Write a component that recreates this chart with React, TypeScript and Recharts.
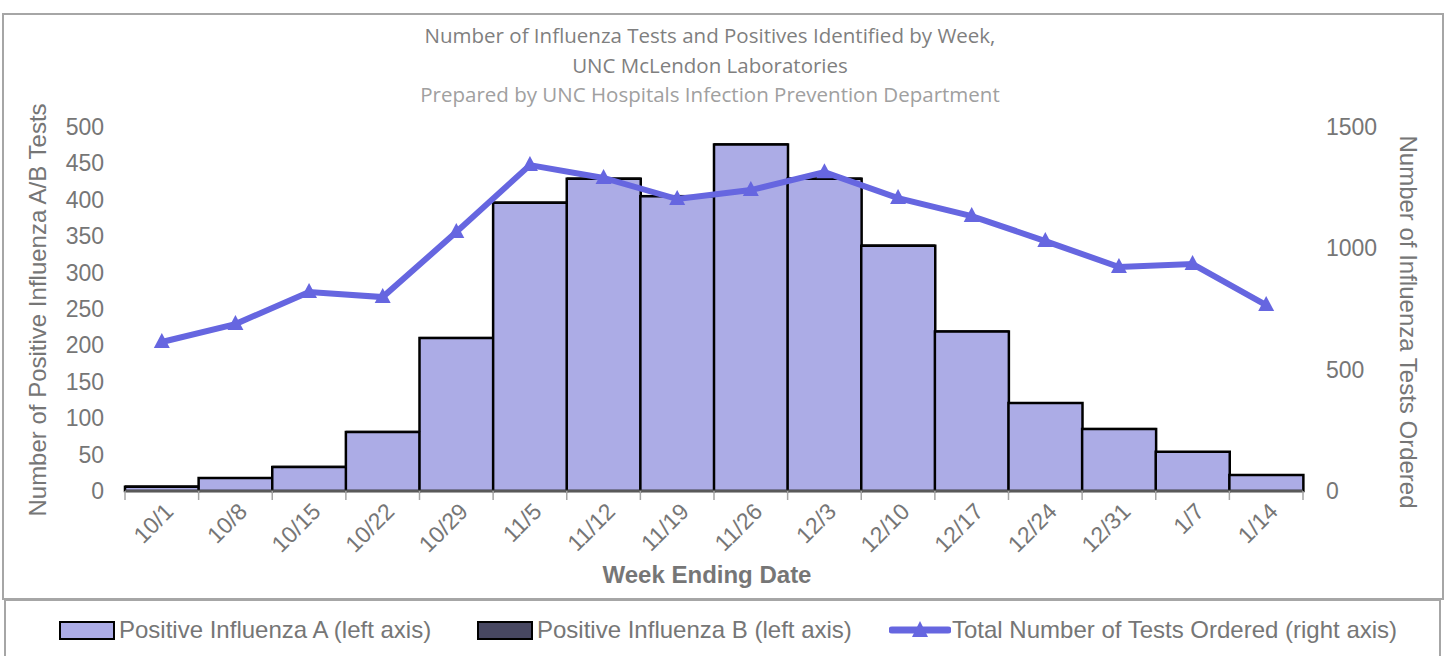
import {
  Bar,
  ComposedChart,
  Label,
  Line,
  XAxis,
  YAxis,
} from "recharts";

const weeks = [
  "10/1", "10/8", "10/15", "10/22", "10/29", "11/5", "11/12", "11/19",
  "11/26", "12/3", "12/10", "12/17", "12/24", "12/31", "1/7", "1/14",
];
const fluA = [6, 18, 33, 81, 210, 396, 429, 405, 476, 429, 337, 219, 121, 85, 54, 22];
const fluB = [1, 0, 1, 1, 1, 1, 1, 1, 1, 1, 1, 1, 0, 1, 0, 0];
const totalTests = [614, 688, 820, 799, 1067, 1343, 1290, 1203, 1240, 1314, 1207, 1133, 1030, 923, 935, 766];
const leftTicks = [0, 50, 100, 150, 200, 250, 300, 350, 400, 450, 500];
const rightTicks = [0, 500, 1000, 1500];

const data = weeks.map((week, i) => ({
  week,
  fluA: fluA[i],
  fluB: fluB[i],
  total: totalTests[i],
}));

const CHART_W = 1447;
const CHART_H = 600;
const PLOT_LEFT = 125;
const PLOT_RIGHT = 1303;
const PLOT_TOP = 127;
const AXIS_Y = 491;
const HALF_BAND = (PLOT_RIGHT - PLOT_LEFT) / weeks.length / 2;

const GRAY = "#767676";
const LINE_COLOR = "#6666e0";
const BAR_FILL = "#acace6";
const FONT = "'Liberation Sans', Arial, sans-serif";

function Triangle({ cx, cy }: { cx?: number; cy?: number }) {
  if (cx == null || cy == null) return null;
  return (
    <path
      d={`M${cx},${cy - 9} L${cx + 8},${cy + 6} L${cx - 8},${cy + 6} Z`}
      fill={LINE_COLOR}
    />
  );
}

function WeekTick({ x, payload, index }: any) {
  const last = index === weeks.length - 1;
  return (
    <g>
      <line x1={x - HALF_BAND} x2={x - HALF_BAND} y1={AXIS_Y} y2={AXIS_Y + 9} stroke="#a6a6a6" strokeWidth={1.5} />
      {last && (
        <line x1={x + HALF_BAND} x2={x + HALF_BAND} y1={AXIS_Y} y2={AXIS_Y + 9} stroke="#a6a6a6" strokeWidth={1.5} />
      )}
      <text
        transform={`translate(${x + 13},${AXIS_Y + 22}) rotate(-45)`}
        textAnchor="end"
        fontSize={23}
        fontFamily={FONT}
        fill={GRAY}
      >
        {payload.value}
      </text>
    </g>
  );
}

function LeftTick({ y, payload }: any) {
  return (
    <text x={104} y={y} dy={8} textAnchor="end" fontSize={23} fontFamily={FONT} fill={GRAY}>
      {payload.value}
    </text>
  );
}

function RightTick({ y, payload }: any) {
  return (
    <text x={1326} y={y} dy={8} textAnchor="start" fontSize={23} fontFamily={FONT} fill={GRAY}>
      {payload.value}
    </text>
  );
}

function LegendRow() {
  const text = { fontSize: 24, fontFamily: FONT, color: GRAY, marginLeft: 4, whiteSpace: "nowrap" as const };
  const swatch = (fill: string) => ({
    width: 52,
    height: 15,
    background: fill,
    border: "2.5px solid #000",
  });
  return (
    <div
      style={{
        position: "absolute",
        left: 4,
        top: 599,
        width: 1437,
        height: 80,
        border: "2px solid #a6a6a6",
        boxSizing: "border-box",
      }}
    >
      <div style={{ position: "absolute", left: 53, top: 15, display: "flex", alignItems: "center" }}>
        <div style={swatch(BAR_FILL)} />
        <span style={text}>Positive Influenza A (left axis)</span>
      </div>
      <div style={{ position: "absolute", left: 471, top: 15, display: "flex", alignItems: "center" }}>
        <div style={swatch("#474761")} />
        <span style={text}>Positive Influenza B (left axis)</span>
      </div>
      <div style={{ position: "absolute", left: 883, top: 15, display: "flex", alignItems: "center" }}>
        <svg width={62} height={24}>
          <line x1={3} x2={59} y1={12} y2={12} stroke={LINE_COLOR} strokeWidth={7} strokeLinecap="round" />
          <path d="M31,3 L39,19 L23,19 Z" fill={LINE_COLOR} />
        </svg>
        <span style={{ ...text, marginLeft: 1 }}>Total Number of Tests Ordered (right axis)</span>
      </div>
    </div>
  );
}

export default function App() {
  return (
    <div style={{ position: "absolute", left: 0, top: 0, width: CHART_W, height: 656, overflow: "hidden", background: "#fff" }}>
      <div
        style={{
          position: "absolute",
          left: 2,
          top: 13,
          width: 1442,
          height: 587,
          border: "2px solid #a6a6a6",
          boxSizing: "border-box",
        }}
      />
      <div
        style={{
          position: "absolute",
          left: 0,
          top: 21,
          width: 1420,
          textAlign: "center",
          fontFamily: "'Open Sans', sans-serif",
          fontSize: 20.5,
          lineHeight: "29.5px",
        }}
      >
        <div style={{ color: "#7f7f7f" }}>Number of Influenza Tests and Positives Identified by Week,</div>
        <div style={{ color: "#7f7f7f" }}>UNC McLendon Laboratories</div>
        <div style={{ color: "#a0a0a0" }}>Prepared by UNC Hospitals Infection Prevention Department</div>
      </div>
      <div style={{ position: "absolute", left: 0, top: 0 }}>
        <ComposedChart
          width={CHART_W}
          height={CHART_H}
          data={data}
          margin={{ top: PLOT_TOP, right: 0, bottom: 0, left: 0 }}
          barCategoryGap={0}
          barGap={0}
        >
          <XAxis
            dataKey="week"
            height={CHART_H - AXIS_Y}
            axisLine={{ stroke: "#595959", strokeWidth: 2.5 }}
            tickLine={false}
            tick={<WeekTick />}
            interval={0}
          >
            <Label
              content={() => (
                <text x={707} y={583} textAnchor="middle" fontSize={24} fontWeight="bold" fontFamily={FONT} fill={GRAY}>
                  Week Ending Date
                </text>
              )}
            />
          </XAxis>
          <YAxis
            yAxisId="left"
            width={PLOT_LEFT}
            domain={[0, 500]}
            ticks={leftTicks}
            axisLine={false}
            tickLine={false}
            tick={<LeftTick />}
          >
            <Label
              content={() => (
                <text
                  transform="translate(46,310) rotate(-90)"
                  textAnchor="middle"
                  fontSize={24}
                  fontFamily={FONT}
                  fill={GRAY}
                >
                  Number of Positive Influenza A/B Tests
                </text>
              )}
            />
          </YAxis>
          <YAxis
            yAxisId="right"
            orientation="right"
            width={CHART_W - PLOT_RIGHT}
            domain={[0, 1500]}
            ticks={rightTicks}
            axisLine={false}
            tickLine={false}
            tick={<RightTick />}
          >
            <Label
              content={() => (
                <text
                  transform="translate(1400,322) rotate(90)"
                  textAnchor="middle"
                  fontSize={24}
                  fontFamily={FONT}
                  fill={GRAY}
                >
                  Number of Influenza Tests Ordered
                </text>
              )}
            />
          </YAxis>
          <Bar
            yAxisId="left"
            dataKey="fluA"
            stackId="flu"
            fill={BAR_FILL}
            stroke="#000"
            strokeWidth={2.5}
            isAnimationActive={false}
          />
          <Bar
            yAxisId="left"
            dataKey="fluB"
            stackId="flu"
            fill="#474761"
            stroke="#000"
            strokeWidth={1}
            isAnimationActive={false}
          />
          <Line
            yAxisId="right"
            dataKey="total"
            stroke={LINE_COLOR}
            strokeWidth={6}
            dot={<Triangle />}
            activeDot={false}
            isAnimationActive={false}
          />
        </ComposedChart>
      </div>
      <LegendRow />
    </div>
  );
}
